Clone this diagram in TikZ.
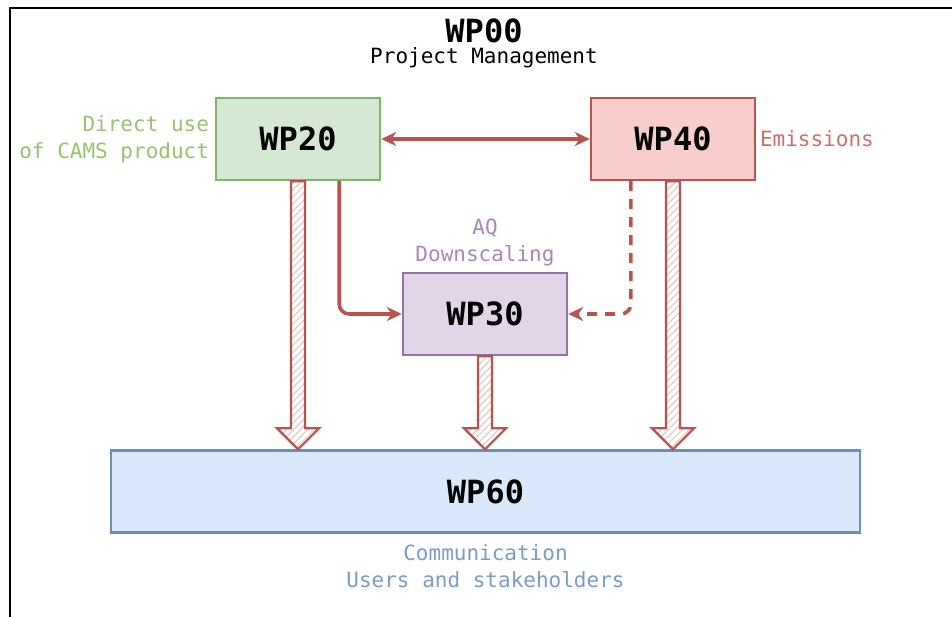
\documentclass[tikz,border=0pt]{standalone}
\usepackage{fontspec}
\setmonofont{DejaVu Sans Mono}
\usetikzlibrary{positioning,calc,arrows.meta,patterns.meta}
\definecolor{myGreen}{HTML}{82b366}
\definecolor{myGreenFill}{HTML}{d5e8d4}
\definecolor{myGreenText}{HTML}{97c36f}
\definecolor{myRed}{HTML}{b85450}
\definecolor{myRedFill}{HTML}{f8cecc}
\definecolor{myRedText}{HTML}{cc6f6b}
\definecolor{myPurple}{HTML}{9673a6}
\definecolor{myPurpleFill}{HTML}{e1d5e7}
\definecolor{myPurpleText}{HTML}{a987bb}
\definecolor{myBlue}{HTML}{6c8ebf}
\definecolor{myBlueFill}{HTML}{dae8fc}
\definecolor{myBlueText}{HTML}{7a9ccb}

\begin{document}
\begin{tikzpicture}[x=1pt, y=-1pt, >={Stealth[length=15pt,width=14pt]}, line width=3.6pt, myRed]

  \tikzstyle{WP}=[rectangle, draw, line width=2.4pt, minimum width=164pt, minimum height=82pt, text=black, font=\fontsize{32}{38}\selectfont\ttfamily\bfseries]
  \tikzstyle{G}=[WP, fill=myGreenFill, draw=myGreen]
  \tikzstyle{R}=[WP, fill=myRedFill, draw=myRed]
  \tikzstyle{P}=[WP, fill=myPurpleFill, draw=myPurple]
  \tikzstyle{B}=[WP, fill=myBlueFill, draw=myBlue]
  \tikzstyle{T}=[font=\fontsize{21}{27}\selectfont\ttfamily, align=center, inner sep=2pt]
  \tikzstyle{H}=[draw=myRed, line width=2.2pt, pattern={Lines[angle=45,distance=5pt,line width=1pt]}, pattern color=myRed!35]

  \useasboundingbox (0,0) rectangle (952,617);

  % frame
  \draw [black, line width=2.4pt] (10,625) -- (10,8) -- (960,8);

  \node[T, text=black, font=\fontsize{32}{38}\selectfont\ttfamily\bfseries] at (484,31) (wp00) {WP00};
  \node[T, text=black] at (484,58) (pm) {Project Management};

  \node[G] at (298,139) (wp20) {WP20};
  \node[R] at (673,139) (wp40) {WP40};
  \node[P] at (485,314) (wp30) {WP30};
  \node[B, minimum width=749pt] at (485.5,491.5) (wp60) {WP60};

  \node[T, text=myGreenText, align=right, left=2pt of wp20] (direct) {Direct use\\of CAMS product};
  \node[T, text=myRedText, right=0pt of wp40] (emis) {Emissions};
  \node[T, text=myPurpleText, above=2pt of wp30] (aq) {AQ\\Downscaling};
  \node[T, text=myBlueText, below=7pt of wp60] (comm) {Communication\\Users and stakeholders};

  \draw [<->] (wp20.east) to (wp40.west);
  \draw [->, rounded corners=10pt] ($(wp20.south east)+(-42,0)$) |- (wp30.west);
  \draw [->, dash pattern=on 10pt off 8pt, rounded corners=10pt] ($(wp40.south west)+(41,0)$) |- (wp30.east);

  % hatched arrows into WP60
  \foreach \src in {wp20,wp30,wp40} {
    \draw [H] ($(\src.south)+(-7,0)$) -- ($(\src.south |- wp60.north)+(-7,-21)$) -- ++(-14,0)
      -- (\src.south |- wp60.north) -- ($(\src.south |- wp60.north)+(21,-21)$) -- ++(-14,0)
      -- ($(\src.south)+(7,0)$) -- cycle;
  }

\end{tikzpicture}
\end{document}
